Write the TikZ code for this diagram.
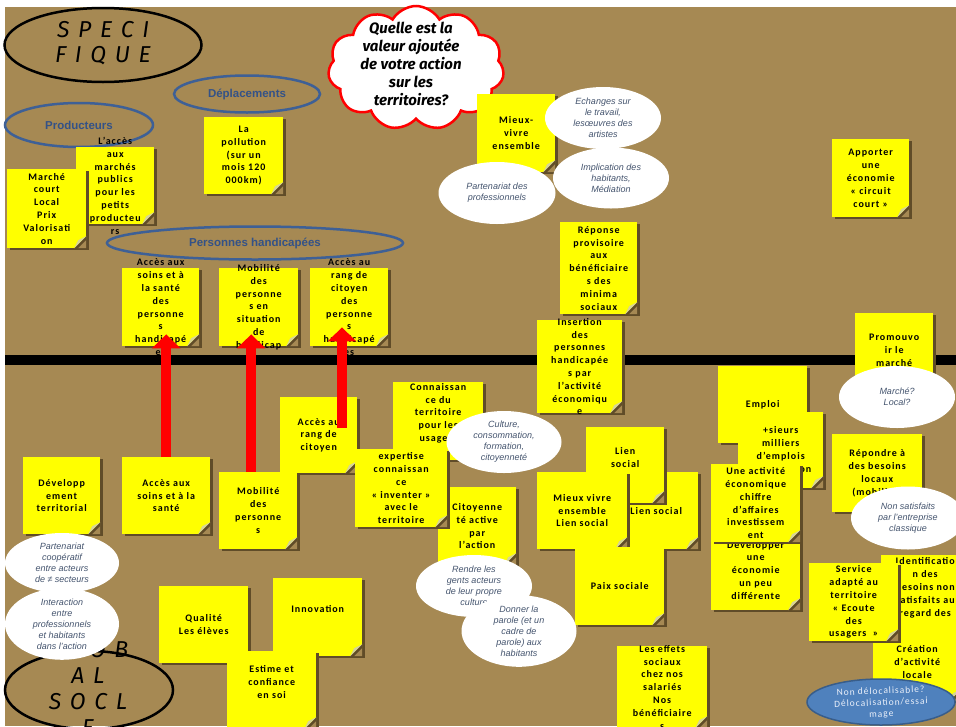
\documentclass[tikz,border=0pt]{standalone}
\usepackage{fontspec}
\setmainfont{Carlito}
\newfontfamily\notefont[LetterSpace=10]{Carlito}
\newfontfamily\bubfont{Liberation Sans}
\newfontfamily\headfont{Liberation Sans}
\newfontfamily\handfont[LetterSpace=38]{Fira Sans}
\newfontfamily\cloudfont{Fira Sans}
\usetikzlibrary{shapes.geometric,shapes.symbols,shadows,arrows.meta}
\definecolor{kraft}{RGB}{166,137,83}
\definecolor{notey}{RGB}{255,255,0}
\definecolor{notesh}{RGB}{96,76,40}
\definecolor{notecurl}{RGB}{215,212,150}
\definecolor{titleblue}{RGB}{62,96,150}
\definecolor{titletext}{RGB}{52,82,135}
\definecolor{bubtext}{RGB}{68,84,110}
\definecolor{delocfill}{RGB}{79,129,189}
\definecolor{delocline}{RGB}{56,93,138}

% [lift]{name}{x}{y}{w}{h}{text}
\newcommand\stickynote[7][0]{%
  \node[note,sz={#5}{#6}] (#2) at (#3,#4) {};
  \node[notetxt] (#2txt) at ([yshift=#1pt]#2.center) {#7};}

\begin{document}
\begin{tikzpicture}[x=1pt,y=-1pt,
  sz/.style 2 args={minimum width=#1pt,minimum height=#2pt},
  note/.style={rectangle,fill=notey,anchor=north west,inner sep=0pt,
    drop shadow={shadow xshift=3pt,shadow yshift=-2pt,fill=notesh,opacity=1},
    path picture={
      \coordinate (se) at (path picture bounding box.south east);
      \fill[kraft] ([shift={(-12,0)}]se) -- ([shift={(0,-12)}]se) -- (se) -- cycle;
      \draw[notesh,line width=2.5pt] ([shift={(-11,1)}]se) -- ([shift={(1,-11)}]se);
      \fill[notecurl] ([shift={(-12,0)}]se) -- ([shift={(0,-12)}]se) -- ([shift={(-8,-8)}]se) -- cycle;
    }},
  notetxt/.style={inner sep=0pt,align=center,font=\notefont\bfseries\fontsize{10}{12.8}\selectfont},
  bubble/.style={ellipse,fill=white,inner sep=0pt,align=center,text=bubtext,
    font=\bubfont\itshape\fontsize{9}{11}\selectfont},
  title/.style={ellipse,draw=titleblue,line width=2.5pt,inner sep=0pt,text=titletext,
    font=\headfont\bfseries\fontsize{11.5}{14}\selectfont},
  ring/.style={ellipse,draw=black,line width=2.5pt,inner sep=0pt},
  handtxt/.style={inner sep=0pt,align=center,font=\handfont\itshape\fontsize{23}{25}\selectfont},
  redarrow/.style={red,line width=10pt,-{Triangle[width=28pt,length=14pt]},shorten >=-12pt}]

\useasboundingbox (0,0) rectangle (956,726);
\clip (0,0) rectangle (956,726);
\fill[white] (0,0) rectangle (956,726);
\fill[kraft] (5,7) rectangle (956,726);

% specifique
\node[ring,sz={197}{74}] (specifique) at (103,45) {};
\node[handtxt] (specitxt) at (103,43) {SPECI\\FIQUE};

\node[title,sz={146}{37}] (deplacements) at (247,94) {Déplacements};
\node[title,sz={148}{44}] (producteurs) at (79,125) {Producteurs};
\node[title,sz={296}{33}] (handicap) at (255,243) {Personnes handicapées};

\node[cloud,cloud puffs=11,cloud puff arc=120,cloud ignores aspect,draw=red,line width=2.5pt,
  fill=white,inner sep=0pt,sz={176}{124}] (question) at (416,68) {};
\node[align=center,inner sep=0pt,font=\cloudfont\bfseries\itshape\fontsize{15}{18}\selectfont]
  (questiontxt) at (411,64) {Quelle est la\\valeur ajoutée\\de votre action\\sur les\\territoires?};

\stickynote{marches}{76}{147}{78}{77}{L’accès\\aux\\marchés\\publics\\pour les\\petits\\producteu\\rs}
\stickynote{marche}{7}{169}{79}{79}{Marché\\court\\Local\\Prix\\Valorisati\\on}
\stickynote{pollution}{204}{117}{79}{77}{La\\pollution\\(sur un\\mois 120\\000km)}
\stickynote{mieuxvivre}{477}{94}{78}{78}{Mieux-\\vivre\\ensemble}
\stickynote{apporter}{832}{139}{77}{78}{Apporter\\une\\économie\\«~circuit\\court~»}
\stickynote{reponse}{560}{222}{77}{92}{Réponse\\provisoire\\aux\\bénéficiaire\\s des\\minima\\sociaux}

\stickynote{soinsT}{122}{268}{77}{78}{Accès aux\\soins et à\\la santé\\des\\personne\\s\\handicapé\\es}
\stickynote{mobT}{219}{268}{79}{78}{Mobilité\\des\\personne\\s en\\situation\\de\\handicap}
\stickynote{rangT}{310}{268}{78}{78}{Accès au\\rang de\\citoyen\\des\\personne\\s\\handicapé\\es}

\node[bubble,sz={116}{62}] (echanges) at (603,118) {Echanges sur\\le travail,\\lesœuvres des\\artistes};
\node[bubble,sz={116}{61}] (implication) at (611,178) {Implication des\\habitants,\\Médiation};
\node[bubble,sz={117}{62}] (partpro) at (497,193) {Partenariat des\\professionnels};

% socle line
\fill[black] (5,355) rectangle (956,365);

\stickynote{insertion}{537}{320}{85}{93}{Insertion\\des\\personnes\\handicapée\\s par\\l’activité\\économiqu\\e}
\stickynote{promouvoir}{855}{313}{78}{87}{Promouvo\\ir le\\marché\\local}
\node[bubble,sz={116}{62}] (marchelocal) at (897,397) {Marché?\\Local?};

\stickynote{developpement}{23}{457}{77}{77}{Développ\\ement\\territorial}
\stickynote{soinsB}{122}{457}{88}{77}{Accès aux\\soins et à la\\santé}
\stickynote{rangB}{280}{397}{77}{76}{Accès au\\rang de\\citoyen}
\stickynote{mobB}{219}{472}{78}{77}{Mobilité\\des\\personne\\s}

\stickynote[8]{connaissance}{393}{382}{90}{78}{Connaissan\\ce du\\territoire\\pour les\\usagers}
\stickynote{citoyennete}{438}{487}{78}{78}{Citoyenne\\té active\\par\\l’action}
\stickynote{expertise}{355}{449}{92}{78}{expertise\\connaissan\\ce\\«~inventer~»\\avec le\\territoire}
\node[bubble,sz={115}{62}] (culture) at (504,442) {Culture,\\consommation,\\formation,\\citoyenneté};

\stickynote{lienB}{614}{472}{84}{77}{Lien social}
\stickynote[8]{lienA}{586}{427}{78}{76}{Lien\\social}
\stickynote{mieuxB}{537}{472}{90}{77}{Mieux vivre\\ensemble\\Lien social}
\stickynote{paix}{575}{547}{89}{78}{Paix sociale}

\stickynote{emploi}{718}{366}{89}{77}{Emploi}
\stickynote{sieurs}{738}{412}{85}{76}{+sieurs\\milliers\\d’emplois\\sur la région}
\stickynote{developper}{711}{530}{89}{80}{Développer\\une\\économie\\un peu\\différente}
\stickynote{activite}{711}{464}{89}{78}{Une activité\\économique\\chiffre\\d’affaires\\investissem\\ent}

\stickynote{repondre}{832}{434}{90}{78}{Répondre à\\des besoins\\locaux\\(mobilité)}
\node[bubble,sz={114}{63}] (nonsatis) at (908,518) {Non satisfaits\\par l’entreprise\\classique};

\stickynote{identification}{881}{555}{88}{78}{Identificatio\\n des\\besoins non\\satisfaits au\\regard des\\usagers}
\stickynote{creation}{873}{623}{88}{78}{Création\\d’activité\\locale}
\stickynote{service}{809}{563}{89}{78}{Service\\adapté au\\territoire\\«~Ecoute\\des\\usagers~~»}
\node[ellipse,fill=delocfill,draw=delocline,line width=1.5pt,inner sep=0pt,sz={148}{46}] (deloc) at (881,702) {};
\node[align=center,inner sep=0pt,rotate=2,text={rgb,255:red,235;green,240;blue,250},
  font=\notefont\fontsize{9.5}{11.5}\selectfont] (delocTxt) at (881,703) {Non délocalisable?\\Délocalisation/essai\\mage};

\stickynote{effets}{617}{646}{90}{82}{Les effets\\sociaux\\chez nos\\salariés\\Nos\\bénéficiaire\\s}

\stickynote{qualite}{159}{586}{89}{77}{Qualité\\Les élèves}
\stickynote[8]{innovation}{273}{578}{89}{78}{Innovation}
\stickynote[8]{estime}{227}{651}{89}{78}{Estime et\\confiance\\en soi}

% socle
\node[ring,sz={168}{78}] (socle) at (89,690) {};
\node[handtxt,font=\handfont\itshape\fontsize{23}{26}\selectfont] (socletxt) at (88,688) {GLOB\\AL\\SOCL\\E};
\node[bubble,sz={114}{60}] (partcoop) at (62,563) {Partenariat\\coopératif\\entre acteurs\\de ≠ secteurs};
\node[bubble,sz={114}{62}] (interaction) at (62,624) {Interaction\\entre\\professionnels\\et habitants\\dans l’action};

\node[bubble,sz={116}{62}] (rendre) at (474,586) {Rendre les\\gents acteurs\\de leur propre\\culture};
\node[bubble,sz={115}{63}] (donner) at (519,631) {Donner la\\parole (et un\\cadre de\\parole) aux\\habitants};

% red arrows
\coordinate (mobTail) at ([xshift=-7pt]mobB.north);
\coordinate (rangTail) at (342,428);
\draw[redarrow] (soinsB.north) -- (soinsB.north |- soinsT.south);
\draw[redarrow] (mobTail) -- (mobTail |- mobT.south);
\draw[redarrow,shorten >=-19pt] (rangTail) -- (rangTail |- rangT.south);
\end{tikzpicture}
\end{document}
